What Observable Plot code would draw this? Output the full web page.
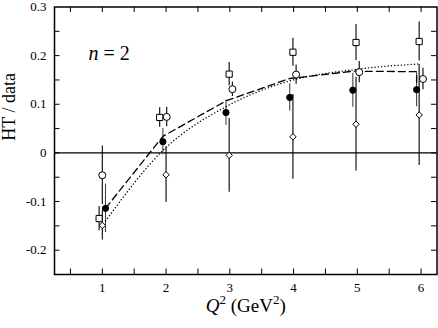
<!DOCTYPE html>
<html>
<head>
<meta charset="utf-8">
<script src="https://cdn.jsdelivr.net/npm/d3@7"></script>
<script src="https://cdn.jsdelivr.net/npm/@observablehq/plot@0.6"></script>
<style>
  html, body { margin: 0; padding: 0; background: white; }
</style>
</head>
<body>
<div id="chart"></div>
<script>
// ---- data ----
const xTickLabels = [1, 2, 3, 4, 5, 6];
const yTickLabels = [-0.2, -0.1, 0, 0.1, 0.2, 0.3];
const xMinorTicks = [0.5, 1, 1.5, 2, 2.5, 3, 3.5, 4, 4.5, 5, 5.5, 6];
const yMinorTicks = [-0.2, -0.15, -0.1, -0.05, 0, 0.05, 0.1, 0.15, 0.2, 0.25];

// open squares
const sqX = [0.95, 1.90, 2.99, 3.99, 4.98, 5.97];
const sqY = [-0.135, 0.073, 0.162, 0.207, 0.227, 0.229];
const sqE = [0.025, 0.020, 0.024, 0.029, 0.037, 0.040];
// open circles
const ocX = [1.00, 2.01, 3.04, 4.04, 5.03, 6.03];
const ocY = [-0.046, 0.074, 0.131, 0.161, 0.166, 0.152];
const ocE = [0.060, 0.020, 0.015, 0.020, 0.022, 0.022];
// filled circles
const fcX = [1.05, 1.95, 2.94, 3.94, 4.93, 5.93];
const fcY = [-0.114, 0.023, 0.083, 0.114, 0.129, 0.130];
const fcE = [0.050, 0.027, 0.026, 0.028, 0.035, 0.035];
// open diamonds
const dmX = [1.00, 2.00, 2.99, 3.99, 4.98, 5.97];
const dmY = [-0.149, -0.045, -0.005, 0.033, 0.059, 0.078];
const dmE = [0.030, 0.057, 0.076, 0.087, 0.096, 0.104];

// dashed curve
const dashX = [1.05, 1.95, 2.94, 3.94, 4.93, 5.93, 5.93];
const dashY = [-0.114, 0.034, 0.107, 0.153, 0.168, 0.167, 0.141];
// dotted curve
const dotX = [1.05, 1.95, 2.94, 3.94, 4.93, 5.97];
const dotY = [-0.140, 0.005, 0.095, 0.148, 0.171, 0.183];

// ---- build rows ----
const rows = (xs, ys, es) => xs.map((x, i) => ({x, y: ys[i], y1: ys[i] - es[i], y2: ys[i] + es[i]}));
const pts = (xs, ys) => xs.map((x, i) => ({x, y: ys[i]}));
const squares = rows(sqX, sqY, sqE);
const openCircles = rows(ocX, ocY, ocE);
const filledCircles = rows(fcX, fcY, fcE);
const diamonds = rows(dmX, dmY, dmE);

const W = 438, H = 328;
const mT = 6.5, mR = 1.5, mB = 54, mL = 54;
const fw = W - mL - mR, fh = H - mT - mB;
const tk = 5.5;
const serif = "'Liberation Serif', 'Times New Roman', serif";
const xTitle = "Q2 (GeV2)";

const fmt = d => d === 0 ? "0" : d.toFixed(1);

const chart = Plot.plot({
  width: W, height: H,
  marginTop: mT, marginRight: mR, marginBottom: mB, marginLeft: mL,
  style: {fontFamily: serif, background: "white", color: "black", overflow: "visible"},
  x: {domain: [0.25, 6.25]},
  y: {domain: [-0.25, 0.3]},
  marks: [
    Plot.axisX({ticks: xTickLabels, tickSize: 0, tickPadding: 8, fontSize: 13, fontFamily: serif, label: null, tickFormat: d => String(d)}),
    Plot.axisY({ticks: yTickLabels, tickSize: 0, tickPadding: 8, fontSize: 13, fontFamily: serif, label: null, tickFormat: fmt}),
    // inward ticks on all four sides
    Plot.ruleX(xMinorTicks, {insetTop: fh - tk, stroke: "black", strokeWidth: 1}),
    Plot.ruleX(xMinorTicks, {insetBottom: fh - tk, stroke: "black", strokeWidth: 1}),
    Plot.ruleY(yMinorTicks, {insetRight: fw - tk, stroke: "black", strokeWidth: 1}),
    Plot.ruleY(yMinorTicks, {insetLeft: fw - tk, stroke: "black", strokeWidth: 1}),
    Plot.ruleY([0], {stroke: "black", strokeWidth: 1.2}),
    // error bars
    Plot.ruleX(diamonds, {x: "x", y1: "y1", y2: "y2", stroke: "black", strokeWidth: 1.1}),
    Plot.ruleX(squares, {x: "x", y1: "y1", y2: "y2", stroke: "black", strokeWidth: 1.1}),
    Plot.ruleX(openCircles, {x: "x", y1: "y1", y2: "y2", stroke: "black", strokeWidth: 1.1}),
    Plot.ruleX(filledCircles, {x: "x", y1: "y1", y2: "y2", stroke: "#444", strokeWidth: 1.1}),
    // curves
    Plot.line(pts(dashX, dashY), {x: "x", y: "y", stroke: "black", strokeWidth: 1.3, strokeDasharray: "7,4"}),
    Plot.line(pts(dotX, dotY), {x: "x", y: "y", stroke: "black", strokeWidth: 1.4, strokeDasharray: "0.1,3.2", strokeLinecap: "round", curve: "monotone-x"}),
    // markers
    Plot.dot(diamonds, {x: "x", y: "y", symbol: "diamond2", r: 2.9, fill: "white", stroke: "black", strokeWidth: 1}),
    Plot.dot(squares, {x: "x", y: "y", symbol: "square", r: 3.5, fill: "white", stroke: "black", strokeWidth: 1}),
    Plot.dot(openCircles, {x: "x", y: "y", symbol: "circle", r: 3.5, fill: "white", stroke: "black", strokeWidth: 1}),
    Plot.dot(filledCircles, {x: "x", y: "y", symbol: "circle", r: 3.1, fill: "black", stroke: "black", strokeWidth: 1}),
    Plot.frame({stroke: "black", strokeWidth: 1.5}),
    // annotation n = 2
    Plot.text(["n"], {text: d => d, frameAnchor: "top-left", dx: 34, dy: 39, textAnchor: "start", fontSize: 20, fontStyle: "italic", fontFamily: serif}),
    Plot.text(["= 2"], {text: d => d, frameAnchor: "top-left", dx: 49, dy: 39, textAnchor: "start", fontSize: 20, fontFamily: serif}),
    // axis titles
    Plot.text(["HT / data"], {text: d => d, frameAnchor: "left", dx: -45, rotate: -90, fontSize: 18, fontFamily: serif}),
    Plot.text([xTitle], {text: d => d, frameAnchor: "bottom", dx: 0, dy: 37, fontSize: 19, fontFamily: serif})
  ]
});

// typeset the x-axis title with italic Q and superscripts
const NS = "http://www.w3.org/2000/svg";
chart.querySelectorAll("text").forEach(t => {
  if (t.textContent === xTitle) {
    while (t.firstChild) t.removeChild(t.firstChild);
    const parts = [
      {s: "Q", italic: true},
      {s: "2", sup: true},
      {s: " (GeV"},
      {s: "2", sup: true},
      {s: ")"}
    ];
    let up = false;
    parts.forEach(p => {
      const ts = document.createElementNS(NS, "tspan");
      ts.textContent = p.s;
      if (p.italic) ts.setAttribute("font-style", "italic");
      if (p.sup) { ts.setAttribute("font-size", "13"); ts.setAttribute("dy", "-8"); up = true; }
      else if (up) { ts.setAttribute("dy", "8"); up = false; }
      t.appendChild(ts);
    });
  }
});
document.getElementById("chart").appendChild(chart);
</script>
</body>
</html>
